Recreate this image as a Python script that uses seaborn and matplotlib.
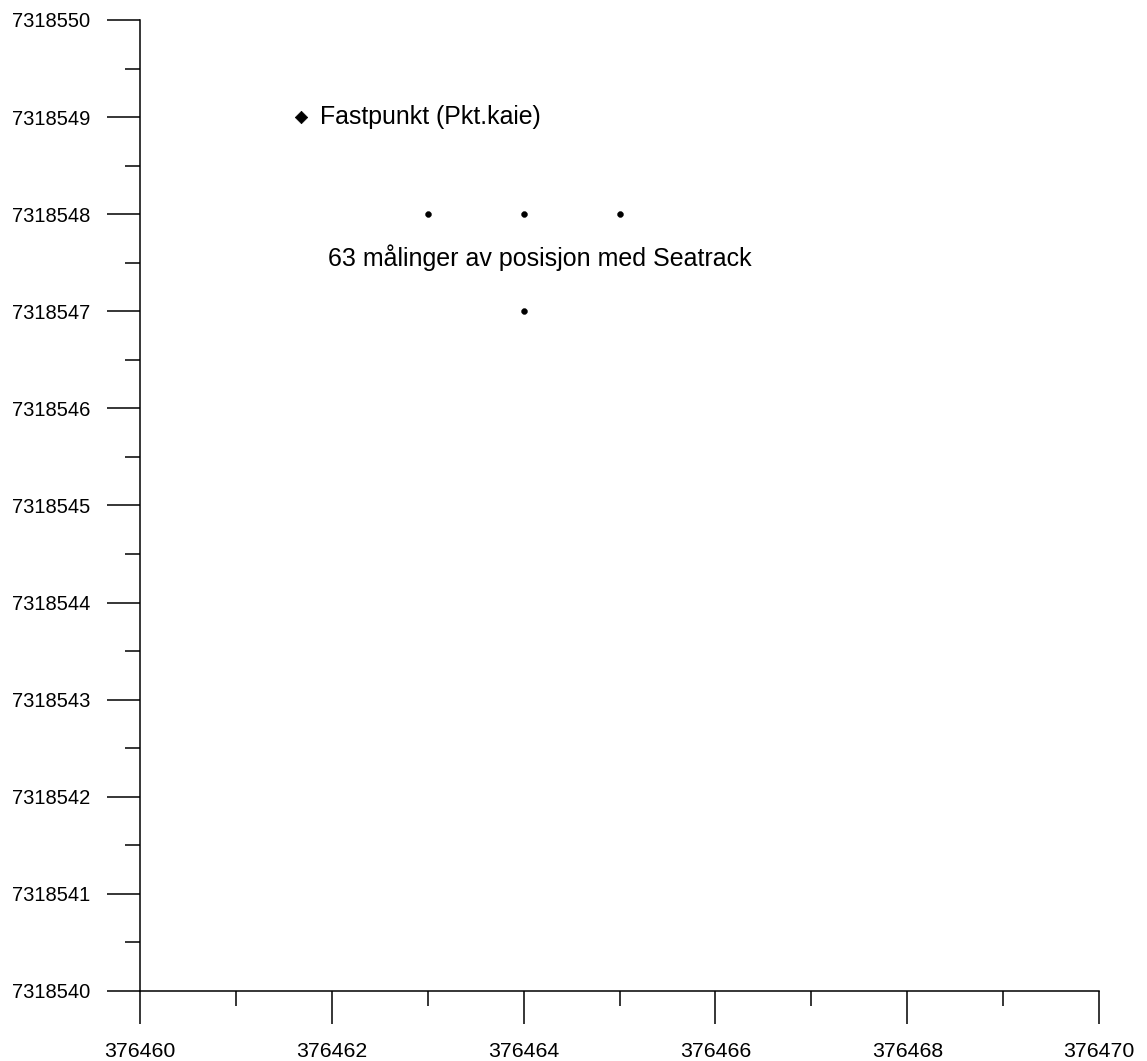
import matplotlib
matplotlib.use("Agg")
import matplotlib.pyplot as plt
import matplotlib.ticker as mticker
import pandas as pd
import seaborn as sns

# Fixed point and Seatrack measurements (UTM east / north)
fast_x = [376461.68]
fast_y = [7318549]
fast_label = "Fastpunkt (Pkt.kaie)"

meas_x = [376463, 376464, 376465, 376464]
meas_y = [7318548, 7318548, 7318548, 7318547]
meas_label = "63 målinger av posisjon med Seatrack"

xlim = (376460, 376470)
ylim = (7318540, 7318550)

sns.set_style("ticks")
plt.rcParams['font.family'] = ['Liberation Sans', 'DejaVu Sans']
plt.rcParams['text.color'] = 'black'
plt.rcParams['xtick.color'] = 'black'
plt.rcParams['ytick.color'] = 'black'

fig = plt.figure(figsize=(11.47, 10.61), dpi=100)
ax = fig.add_axes([140 / 1147, 70 / 1061, 959 / 1147, 971 / 1061])

df_fast = pd.DataFrame({"x": fast_x, "y": fast_y})
df_meas = pd.DataFrame({"x": meas_x, "y": meas_y})

sns.scatterplot(data=df_fast, x="x", y="y", marker="D", s=40, color="black",
                edgecolor="black", ax=ax)
sns.scatterplot(data=df_meas, x="x", y="y", marker="o", s=18, color="black",
                edgecolor="black", ax=ax)

ax.text(fast_x[0] + 0.2, fast_y[0], fast_label, fontsize=17.9,
        va="center", ha="left", color="black")
ax.text(376461.96, 7318547.55, meas_label, fontsize=18.0,
        va="center", ha="left", color="black")

ax.set_xlim(*xlim)
ax.set_ylim(*ylim)
ax.set_xlabel("")
ax.set_ylabel("")

ax.xaxis.set_major_locator(mticker.MultipleLocator(2))
ax.xaxis.set_minor_locator(mticker.MultipleLocator(1))
ax.yaxis.set_major_locator(mticker.MultipleLocator(1))
ax.yaxis.set_minor_locator(mticker.MultipleLocator(0.5))
fmt = mticker.FuncFormatter(lambda v, p: f"{v:.0f}")
ax.xaxis.set_major_formatter(fmt)
ax.yaxis.set_major_formatter(fmt)

ax.tick_params(which="major", length=24, width=1.1, color="black",
               labelcolor="black", labelsize=14.5, pad=12)
ax.tick_params(which="minor", length=11, width=1.1, color="black")
ax.tick_params(axis="x", which="major", pad=13, labelsize=15.3)

for s in ["top", "right"]:
    ax.spines[s].set_visible(False)
for s in ["left", "bottom"]:
    ax.spines[s].set_linewidth(1.1)
    ax.spines[s].set_color("black")

fig.savefig("out.png", dpi=100)
